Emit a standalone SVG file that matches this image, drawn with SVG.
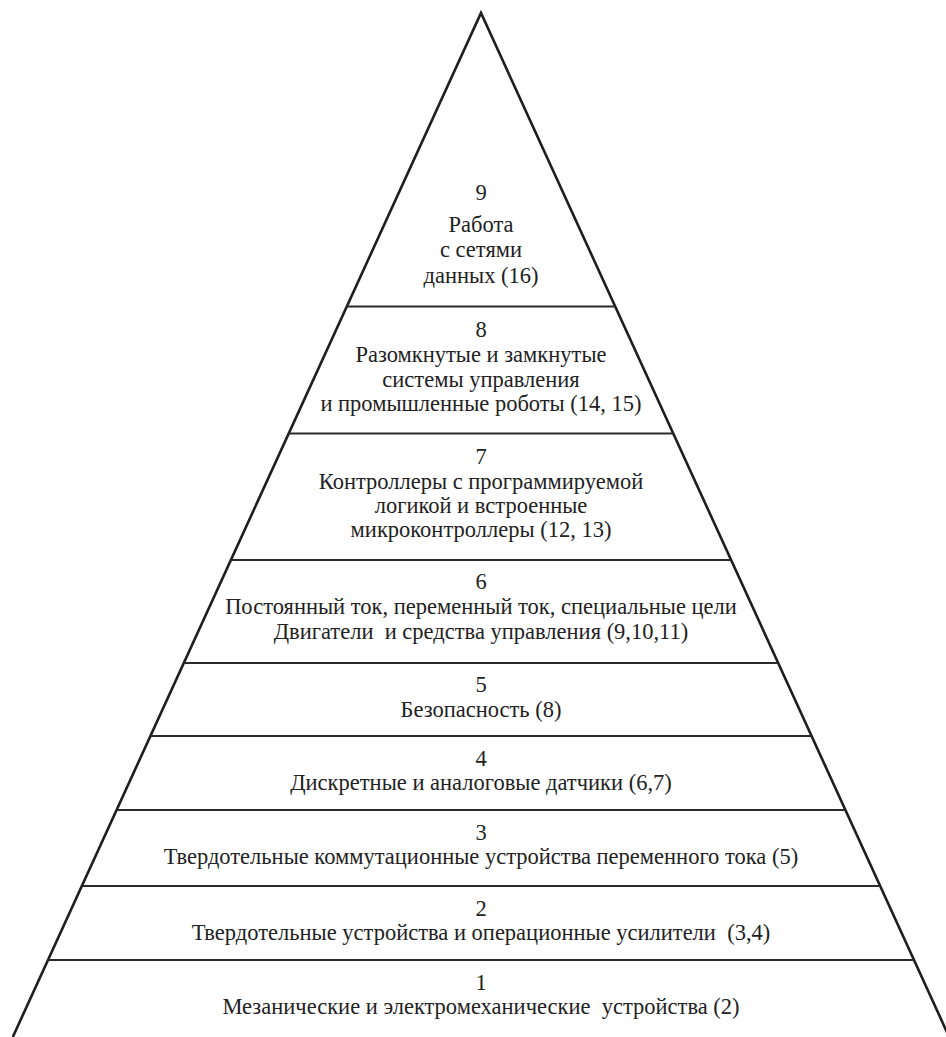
<svg xmlns="http://www.w3.org/2000/svg" width="946" height="1037" viewBox="0 0 946 1037">
<style>
.edge{stroke:#1e1e1e;stroke-width:2.6;fill:none;stroke-linejoin:miter}
.div{stroke:#2a2a2a;stroke-width:2}
text{font-family:"Liberation Serif","DejaVu Serif",serif;font-size:22.5px;fill:#222;text-anchor:middle;white-space:pre}
</style>
<rect width="946" height="1037" fill="#fff"/>
<g id="connectors">
<polyline class="edge" points="12.8,1037 481,13 949.2,1037"/>
<line class="div" x1="346.8" y1="306.5" x2="615.2" y2="306.5"/>
<line class="div" x1="288.7" y1="433.5" x2="673.3" y2="433.5"/>
<line class="div" x1="230.9" y1="560" x2="731.1" y2="560"/>
<line class="div" x1="183.8" y1="663" x2="778.2" y2="663"/>
<line class="div" x1="150.4" y1="736" x2="811.6" y2="736"/>
<line class="div" x1="116.6" y1="810" x2="845.4" y2="810"/>
<line class="div" x1="81.9" y1="886" x2="880.1" y2="886"/>
<line class="div" x1="48" y1="960" x2="914" y2="960"/>
</g>
<g id="level9">
<text x="481" y="200">9</text>
<text x="481" y="232">Работа</text>
<text x="481" y="257">с сетями</text>
<text x="481" y="283">данных (16)</text>
</g>
<g id="level8">
<text x="481" y="337">8</text>
<text x="481" y="362">Разомкнутые и замкнутые</text>
<text x="481" y="387">системы управления</text>
<text x="481" y="411">и промышленные роботы (14, 15)</text>
</g>
<g id="level7">
<text x="481" y="464">7</text>
<text x="481" y="489">Контроллеры с программируемой</text>
<text x="481" y="513">логикой и встроенные</text>
<text x="481" y="537">микроконтроллеры (12, 13)</text>
</g>
<g id="level6">
<text x="481" y="589">6</text>
<text x="481" y="614">Постоянный ток, переменный ток, специальные цели</text>
<text x="481" y="639">Двигатели  и средства управления (9,10,11)</text>
</g>
<g id="level5">
<text x="481" y="692">5</text>
<text x="481" y="717">Безопасность (8)</text>
</g>
<g id="level4">
<text x="481" y="766">4</text>
<text x="481" y="790">Дискретные и аналоговые датчики (6,7)</text>
</g>
<g id="level3">
<text x="481" y="840">3</text>
<text x="481" y="864">Твердотельные коммутационные устройства переменного тока (5)</text>
</g>
<g id="level2">
<text x="481" y="916">2</text>
<text x="481" y="940">Твердотельные устройства и операционные усилители  (3,4)</text>
</g>
<g id="level1">
<text x="481" y="990">1</text>
<text x="481" y="1014">Мезанические и электромеханические  устройства (2)</text>
</g>
</svg>
